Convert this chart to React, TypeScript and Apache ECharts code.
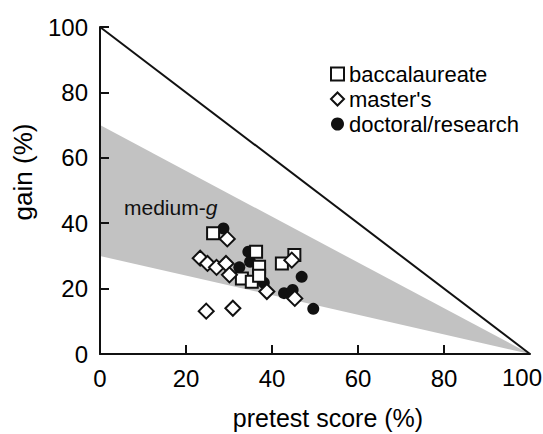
import React, { useEffect, useRef } from "react";
import * as echarts from "echarts";

const xTicks = [0, 20, 40, 60, 80, 100];
const yTicks = [0, 20, 40, 60, 80, 100];

const seriesNames = ["baccalaureate", "master's", "doctoral/research"];

const baccPre = [26.3, 36.3, 37.0, 33.0, 35.3, 37.0, 42.3, 45.2];
const baccGain = [36.9, 31.3, 26.7, 23.1, 22.1, 23.9, 27.7, 30.3];

const mastPre = [29.6, 23.3, 25.0, 27.1, 29.3, 30.1, 38.8, 44.6, 45.3, 24.7, 30.9];
const mastGain = [35.2, 29.3, 27.7, 26.5, 27.7, 24.2, 19.1, 28.7, 17.0, 13.1, 14.0];

const docPre = [28.7, 34.5, 34.9, 32.4, 38.1, 46.9, 42.8, 44.8, 49.6];
const docGain = [38.4, 31.3, 28.2, 26.5, 21.8, 23.6, 18.6, 19.6, 13.8];

// medium-g band: g between 0.3 and 0.7
const bandPre = [0, 0, 100];
const bandGain = [30, 70, 0];

// maximum possible gain line
const maxPre = [0, 100];
const maxGain = [100, 0];

const zip = (a: number[], b: number[]) => a.map((v, i) => [v, b[i]]);

const FONT = "'Liberation Sans', Arial, Helvetica, sans-serif";

export default function App() {
  const ref = useRef<HTMLDivElement>(null);
  useEffect(() => {
    if (!ref.current) return;
    const chart = echarts.init(ref.current, undefined, { renderer: "svg" });
    const axisCommon = {
      axisLine: { show: true, lineStyle: { color: "#111", width: 2 } },
      axisTick: { show: true, inside: true, length: 9, lineStyle: { color: "#111", width: 2 } },
      splitLine: { show: false },
      axisLabel: { color: "#000", fontSize: 24, fontFamily: FONT, margin: 12 },
    };
    chart.setOption({
      animation: false,
      backgroundColor: "#ffffff",
      grid: { left: 100, right: 13, top: 27, bottom: 80, containLabel: false, outerBoundsMode: "none" },
      xAxis: {
        type: "value",
        min: xTicks[0],
        max: xTicks[xTicks.length - 1],
        interval: 20,
        ...axisCommon,
        axisLabel: { ...axisCommon.axisLabel, showMaxLabel: false },
      },
      yAxis: {
        type: "value",
        min: yTicks[0],
        max: yTicks[yTicks.length - 1],
        interval: 20,
        ...axisCommon,
      },
      legend: {
        orient: "vertical",
        left: 325,
        top: 58,
        itemWidth: 13,
        itemHeight: 13,
        itemGap: 3,
        data: seriesNames,
        textStyle: { color: "#000", fontSize: 22, fontFamily: FONT },
      },
      graphic: [
        {
          type: "text",
          x: 542,
          y: 377,
          style: {
            text: String(xTicks[xTicks.length - 1]),
            fontSize: 24,
            fontFamily: FONT,
            fill: "#000",
            align: "right",
            verticalAlign: "middle",
          },
        },
        {
          type: "text",
          x: 23,
          y: 172,
          rotation: Math.PI / 2,
          style: {
            text: "gain (%)",
            fontSize: 26,
            fontFamily: FONT,
            fill: "#000",
            align: "center",
            verticalAlign: "middle",
          },
        },
        {
          type: "text",
          x: 328,
          y: 418,
          style: {
            text: "pretest score (%)",
            fontSize: 25,
            fontFamily: FONT,
            fill: "#000",
            align: "center",
            verticalAlign: "middle",
          },
        },
        {
          type: "text",
          x: 124,
          y: 207,
          z: 10,
          style: {
            text: "{a|medium-}{b|g}",
            fontFamily: FONT,
            fill: "#111",
            verticalAlign: "middle",
            rich: {
              a: { fontSize: 21, fontFamily: FONT, fill: "#111" },
              b: { fontSize: 21, fontFamily: FONT, fontStyle: "italic", fill: "#111" },
            },
          },
        },
      ],
      series: [
        {
          type: "custom",
          name: "band",
          silent: true,
          z: 0,
          data: [[0, 0]],
          renderItem: (_params: any, api: any) => {
            const points = bandPre.map((p, i) => api.coord([p, bandGain[i]]));
            return { type: "polygon", shape: { points }, style: { fill: "#c2c2c2" } };
          },
        },
        {
          type: "line",
          name: "max",
          data: zip(maxPre, maxGain),
          symbol: "none",
          z: 1,
          lineStyle: { color: "#111", width: 2 },
        },
        {
          type: "scatter",
          name: seriesNames[0],
          data: zip(baccPre, baccGain),
          symbol: "rect",
          symbolSize: 12,
          z: 3,
          itemStyle: { color: "#ffffff", borderColor: "#111", borderWidth: 2, opacity: 1 },
        },
        {
          type: "scatter",
          name: seriesNames[1],
          data: zip(mastPre, mastGain),
          symbol: "diamond",
          symbolSize: 15,
          z: 4,
          itemStyle: { color: "#ffffff", borderColor: "#111", borderWidth: 2, opacity: 1 },
        },
        {
          type: "scatter",
          name: seriesNames[2],
          data: zip(docPre, docGain),
          symbol: "circle",
          symbolSize: 12,
          z: 2,
          itemStyle: { color: "#111", borderColor: "#111", borderWidth: 0, opacity: 1 },
        },
      ],
    });
    return () => chart.dispose();
  }, []);
  return (
    <div
      ref={ref}
      style={{ position: "fixed", left: 0, top: 0, width: 543, height: 434, background: "#fff" }}
    />
  );
}
